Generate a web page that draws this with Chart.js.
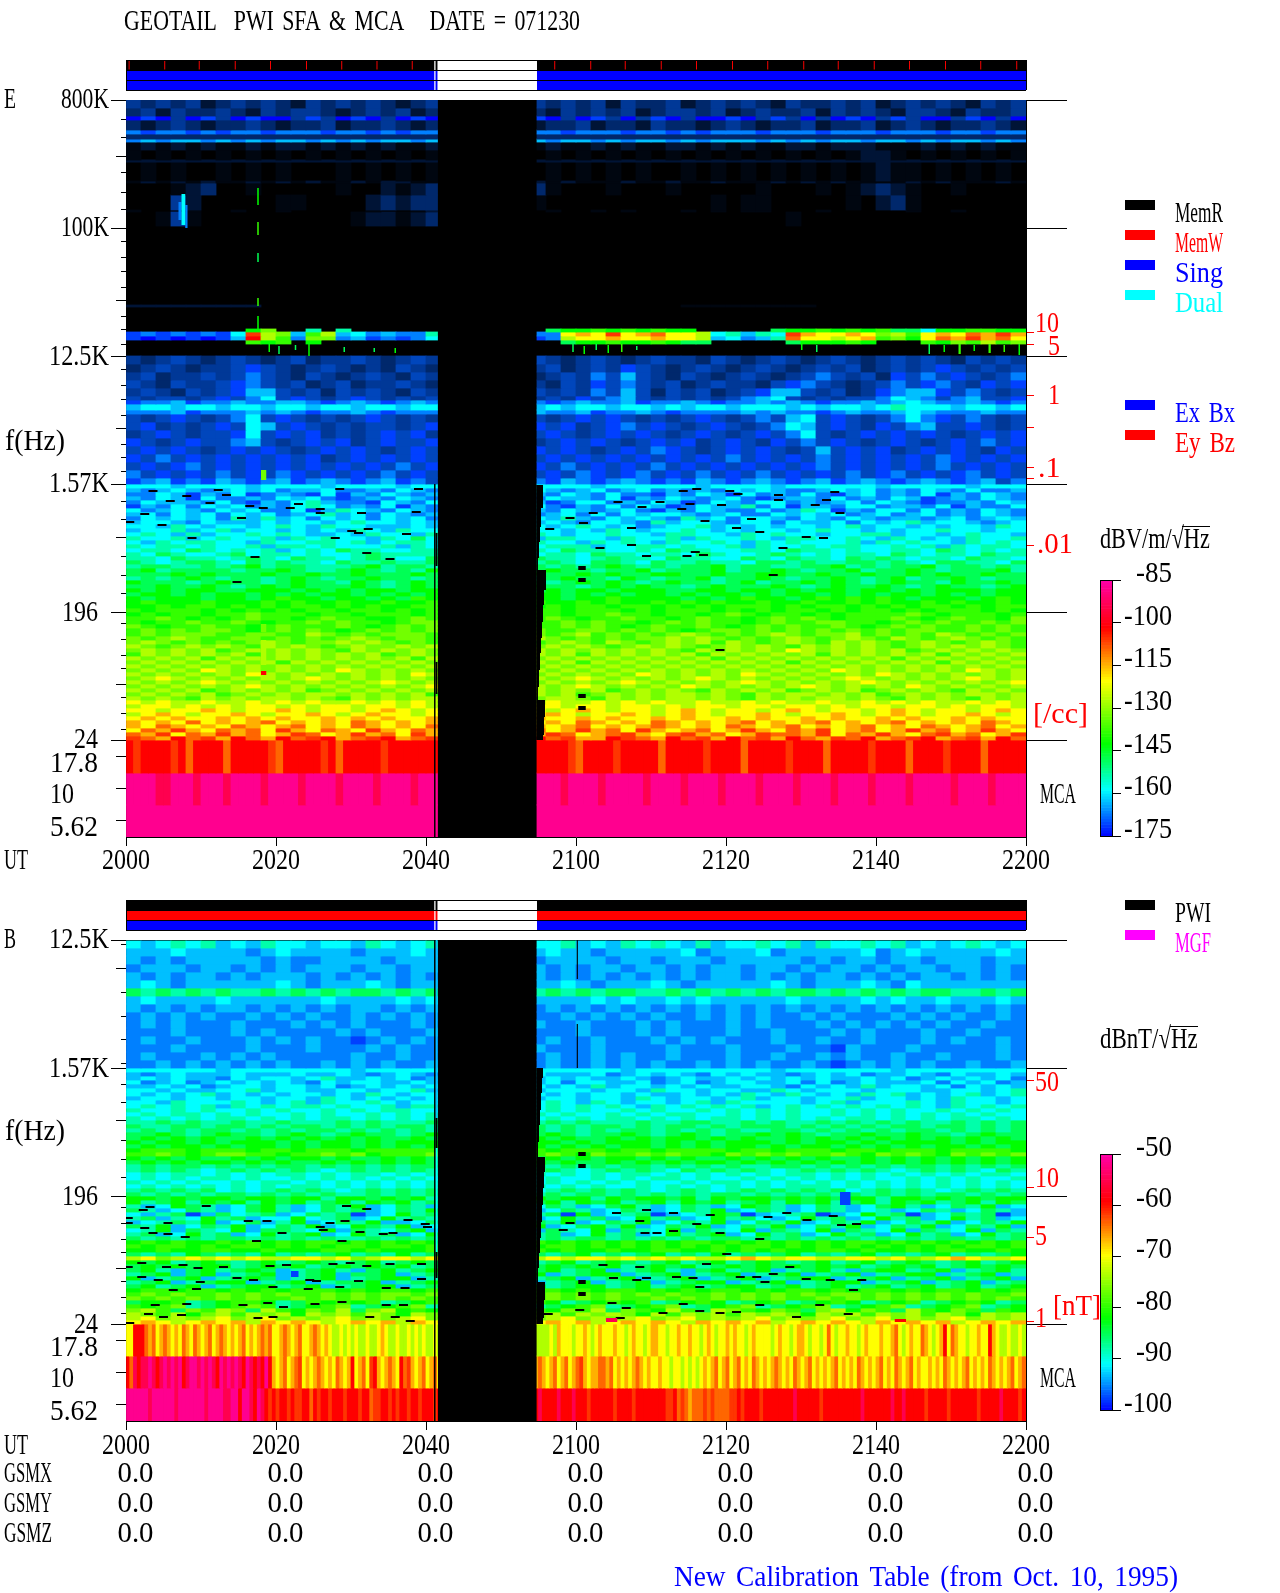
<!DOCTYPE html>
<html><head><meta charset="utf-8"><style>html,body{margin:0;padding:0;background:#fff;width:1280px;height:1593px;overflow:hidden}canvas{position:absolute}</style>
<script src="https://cdn.jsdelivr.net/npm/chart.js@4"></script></head><body><script>
// ---- time axis (minutes after 2000 UT) ----
const TIME_TICKS=[0,20,40,60,80,100,120];
const TIME_LABELS=['2000','2020','2040','2100','2120','2140','2200'];
const GSM_NAMES=['GSMX','GSMY','GSMZ'];
const GSMX=['0.0','0.0','0.0','0.0','0.0','0.0','0.0'];
const GSMY=['0.0','0.0','0.0','0.0','0.0','0.0','0.0'];
const GSMZ=['0.0','0.0','0.0','0.0','0.0','0.0','0.0'];
const GAP_START=41.53, GAP_END=54.8;
// ---- status strips ----
const STRIP_ON=[[0,41.1],[41.27,41.53],[54.8,120]];
const E_STRIP_TICKS=[.35,5.1,9.7,14.5,19.2,24,28.7,33.4,38.1,57.1,61.9,66.5,71.3,76,80.8,85.5,90.3,94.9,99.7,104.4,109.2,113.9,118.7];
// ---- frequency axes, in channels above the 24 Hz line ----
const E_MAJOR=[640,512,384,256,128,0];
const E_MED=[584,440,312,203,56,-16,-48,-80];
const E_MINOR=[621,603,568,548,531,499,483,469,453,424,411,396,371,355,341,325,296,283,268,239,221,184,165,147,117,101,85,72,43,27,11];
const E_LABEL_TICKS=[640,512,384,256,128,0,-16,-48,-80];
const E_LABELS=['800K','100K','12.5K','1.57K','196','24','17.8','10','5.62'];
const E_RED=[408,396,344,313,272,262,195];
const E_RED_LABELS=['10','5','1','','.1','','.01'];
const B_MAJOR=[384,256,128,0];
const B_MED=[355,203,56,-16,-48,-80];
const B_MINOR=[379,331,307,285,261,240,221,184,165,147,117,101,85,72,43,27,11];
const B_LABEL_TICKS=[384,256,128,0,-16,-48,-80];
const B_LABELS=['12.5K','1.57K','196','24','17.8','10','5.62'];
const B_RED=[243,137,87,3];
const B_RED_LABELS=['50','10','5','1'];
// ---- colour bar scales ----
const E_DB=[-85,-100,-115,-130,-145,-160,-175];
const B_DB=[-50,-60,-70,-80,-90,-100];
// ---- level keys (0..1 along the bar; negative = sparse noise, fading to black) ----
const LEVEL_KEYS={t:-.37,u:-.3,v:-.2,w:-.12,x:-.05,'0':0,'1':.045,'2':.09,'3':.135,'4':.18,'5':.24,'6':.30,'7':.36,'8':.41,'9':.47,a:.53,b:.606,c:.67,d:.73,e:.77,f:.813,g:.9,h:.97};
// ---- E panel, sparse upper channels: [top channel, bottom channel, cells before gap | cells after gap] ----
const E_UPPER=[
[640,632,'wvwvwuvwvwvuwvwvwvuvw|wvwvwuwvvwuvwvwvuwvvwvwuvwvwvuwvw'],
[632,624,'vwuwvvwvuwvwwvuvwvwuv|vuwvwvwuvwwvwuvwvvwuwvwvuwwvuwvvw'],
[624,620,'010w01w0100w1w010w010|10w01w0w10w0010w1w0w010w1w00w10w0'],
[620,610,'vuvwvuvvwvuvvwuvvwvuv|uvvwuvvuwvvuvwvuvvwuvvwuvwvuvvwvu'],
[610,606,'212212122122212212122|221222122121222122212221222122122'],
[606,601,'v|v'],
[601,598,'232332323233232323323|323323233232333232323323323233232'],
[598,590,'tutututtutuututututtu|tuttututtuutututtuutuuutttutututt'],
[590,580,'t.t.t.t.t.t.t.t.t.t.t|t.t.t.t.t.t.t.t.t.t.t.tuut.t.t.t.t'],
[580,578,'u|u'],
[578,559,'.t.t..t.t.t...t.t.t.t|.t.t.t.t..t.t.t.t.t.t.tutt.t.t.t.'],
[559,557,'tutututtutututtutuutt|ututttuttuttutttutututtttututttut'],
[557,545,'...tuv..t.....t..utuv|vt...t...t.....t...t.tuvut..t....'],
[545,530,'...wu.....tt....uvuvv|t...........t.tt.....t.uvt.......'],
[530,528,'t...t..t..t.....t..tu|.t..t.t...t.t.tt...t.....t..t....'],
[528,514,'..twt..........tuutuv|................t...............'],
[435,433,'uuuuuuuuu............|..........ttttttttt..............'],
[411,408,'........79..5.5......|..6778787877.....67787878664778877'],
[408,404,'12121214ea938a3423225|22bcbebcdbba45354ecbbcb9a8bcbdcec'],
[404,400,'10101013fa82992312124|12abbcbbcbba34235dbbabc897bdcecdb'],
[400,396,'........878.7........|..6778778766.....677787...8798a89']];
// ---- E panel, noisy channels below the 12.5 kHz line ----
const E_NOISE=[
[384,376,'wvwxwvwxwvwxvwwxwvwxw|xwvwxwvwxwwvxwvwxwvwxwvwxwxwvxwxw'],
[376,368,'vwxwvwwx1xwvwxwvwvxwv|wxvwxw1xwvwxwvwxwvwxwxvwxwx1xwxwx'],
[368,360,'wxvwwxwx2xwvxwvwxwvxw|vwxw2x3xwvxwvwxwvwx2xwxv1x2x1xwx2'],
[360,352,'xwvxwwx12xwxvwxvwwxwv|wvxw1x2xwxvwxwwvx12xwvwx2x12xw1x1'],
[352,344,'wxwvxwx133xwxvxwxwvxw|xwxw2x3xvxwxvwx133xwxvw12331x2xwx'],
[344,340,'xwxxwx1x24x1xwx1xwxwx|wxw1x23xwxwxwx234xwxwxx2432x23xx1'],
[340,336,'122312232233212321232|212322312232122323212232343223212'],
[336,330,'344344344344344344344|343443443434434443434434544434434'],
[330,326,'222312223232122321222|322312232122223232212322343222322'],
[326,318,'xwx1xwx24x1xwxwx1xwxw|xwx1x1xwxwx1xwx2x34x1xwx2421x2xwx'],
[318,310,'x1wxwx1x43x1xwxwxxwx1|1x1wx12x1xwx1xwx243x1xw1x23xx1xwx'],
[310,302,'wx1xwxx14x1x1wxwx1x1w|x1xwx1x1xwx1xwx1x24xwx1x1x1xwx1x1'],
[302,294,'1xwx1xx23xwx1x1wx1xx1|wx1x1xwx1x1wx1xw1x2x1xwx1xwx1x2x1'],
[294,286,'x1x1xwx1x1xwx1x1xwx1x|1x1xwx1x21xwx1x1xwx3x1x1wx1x1xw1x'],
[286,278,'1x2x1x1x1x1x1wx1x1x1x|x1x1x1x1x1x1x2x1x1x2x1x1x1x21x1x1'],
[278,270,'x1x12x1x1x1x1x1x1x2x1|1x2x1x1x2x1x1x1x1x12x1x1x1x2x1x1x'],
[270,262,'2x1x1x2x1x21x1x1x2x1x|x1x21x12x1x2x1x2x1x1x2x12x1x12x1x'],
[262,256,'12312132123123212312x|2132123212132123212312321232123x2']];
// ---- E panel, SFA channels from 1.57 kHz to 24 Hz, one row per 4 channels, top to bottom ----
const E_BRICKS=[
'444344443444434444344|444434444443444434444443444443444',
'323432343423342232432|432342342323243432234342324324223',
'224313241232141324323|324324221324314232421342324132432',
'324314223243421232432|243324132432342123324232431232432',
'243332421324532214324|312442324312432442323424321223243',
'132424342324542324132|421324243124335241332442332413224',
'423432434224135432432|324323421324322423541324424232432',
'342434243423453424323|234242434432342243434234234232432',
'243434253534243424342|435324343253424432432432332342343',
'344324333434434544343|343244325344324424334243453443234',
'443543443454354433343|434543423445343434434534434344354',
'344534534434343543544|443435434454343443454434344544344',
'454353445454334354435|543445443554435454434455344345443',
'544534544535454435464|355443544535445435544543543435445',
'435455443544554534554|544354543544543545444535454435454',
'545545445355454445354|455534455454453544545544545354554',
'455465454534546554455|546554454655445546554544554654545',
'546544564554544565555|455465545546544565454554654554655',
'554655456546554565446|655456554655446546554656545546554',
'654566546565546556556|565466546556554665655665654665546',
'566556567566555675665|656567656566756655667565667566565',
'675666656676556765657|676656675666756676566756676566675',
'666767666766766766676|766767667766766776676676676766766',
'565676566567656676656|567665765667566765667656756676566',
'766656766567665765676|656767656766567566767656766576676',
'667667656767666765676|766567676656766676567667656766567',
'767677667776767677677|676776777667767767677677676777677',
'677676776767677676767|776767677676776767767676776767677',
'767776776787767767687|776778777767678776787878767776787',
'787778777878778778778|877878778787877877877878778787787',
'778788787878878787788|787887887878788878788787878878788',
'878887878787887887878|887888787888787878878788787888787',
'787887889888788788878|887889887887898788787888898788878',
'889878789887898877898|898788988789887898987888987898879',
'878898898788989887899|889898878989887898899887898988989',
'987889887898889878989|889898789889878989889878989889898',
'898989987898987898989|988998989878998989898989899889898',
'898999889988a98989998|989a898989a98989a9899a89898a98989',
'989a98899898989a98998|a98989899a9a98989a989a98a989a9898',
'9a9898989a9899a9a9898|89a98a989a9a8a989a98a9a989a989a98',
'a989a9a98a9a989a99a9a|9a9a989a9a989a9a98a9a9a989a9a9a98',
'9a9a9a89a9a9a98a9a9a9|a9a9a9a9a98a9a9a9ba9a9a9a89a9a9a9',
'8a9a9a9a89a9a9a9a89a9|a9a8a9a9a9a8a9a9a9a8a9a9a9a8a9a9a',
'a9a9a8a9a9a9a9a9a9a8a|9a9a9a9a9a9a8a9a9a9a9a9a8a9a9a9a9',
'9a9a9a9a9a8a9a9a9a9a9|a9a8a9a9a9a9a9a9a8a9a9a9a9a8a9a9a',
'a9a9a9a9a9a9a9a9a9a9a|9a9a9a9a9a9a9a9a9a9a9a9a9a9a9a9a9',
'9a9a9ba9a9a9a9ba9a9a9|a9a9a9a9a9a9a9a9a9a9ba9a9a9a9ba9a',
'a9a9a9a9ba9a9a9a9a9ba|9a9a9a9ba9a9a9ba9a9a9a9ba9a9a9a9a',
'9aba9a9a9a9aba9a9a9a9|a9aba9a9a9aba9a9a9a9aba9a9a9aba9a',
'a9a9aba9a9a9a9a9aba9a|9a9a9aba9a9a9aba9a9a9aba9a9a9a9ab',
'9a9a9a9aba9a9a9a9a9ab|a9aba9a9a9ba9a9a9aba9a9a9ba9a9a9a',
'a9a9a89a9a9a89a9a9a9a|a9a9a89a9a98a9a9a89a9a89a9a98a9a9',
'9a9a9a89a9a9aa9a9a9a8|a9a89a9a9aa9a98a9aa9a9a89a9a9aa9a',
'a9a98a9a9aa9a98a9a9aa|9aa98a9a9aa9a98a9a9aa9a98a9a98a9a',
'babaabaabababaabababa|abaabababaabaababaabaabababaababa',
'abbabababbababbabbaba|bbabbabbababbabbabbababbabbababba',
'bbabbcbabbcbabbabcbab|babcbabbabcbabbabcbabbabcbabbabcb',
'abcbabbcbabbcbabcbbab|bcbabbcbabcbabbcbabbcbabcbabbcbab',
'bcbcbbcbcbcbbcbcbcbbc|cbbcbcbbcbcbbcbcbbcbcbbcbcbbcbcbb',
'cbcbdbcbcdbcbcbdcbcbc|bcbdcbcbdcbcbcdbcbcdbcbcdbcbcbdcb',
'cbdcbcbdcbcdbcbdcbcbd|cbcdbcbcdcbcbdcbcdbcbcdbcbdcbcdbc',
'bdcecbdcdbecbdcbecbdc|dbcecdbecbcdbcecbdcebcdbcecdbcecb',
'dcebdcecdbcedbcecdbec|cedbcdecbdecdbceddcebdcecbdecdbce',
'edcfdecfdcfdefcdefcde|fdeccfedcfdecfdecfdcedfcdefcdecfd'];
// black dashes: [minute, channel]
const E_DASHES=[[3.6,249],[12.3,250],[13.4,245],[5.9,239],[8.1,244],[11.2,237],[16.5,234],[23,236],[21.9,232],[18.3,232],[.5,218],[2.5,226],[4.8,215],[15.4,222],[31,207],[30.1,209],[32.3,211],[37.4,206],[27.9,202],[8.8,202],[17.2,183],[35.2,181],[25.9,227],[28.5,251],[39,251],[38.7,228],[31.4,227],[25.9,231],[14.8,158],[32.1,187],
[76.1,251],[74.3,249],[80.5,249],[81.6,246],[87,245],[87,240],[94.5,248],[65.6,238],[68.8,233],[71.2,238],[75.2,236],[79.4,235],[91.9,235],[93.4,240],[74.1,231],[62.3,227],[59.2,222],[61,217],[77.2,219],[83.4,221],[81.4,212],[84.5,208],[95.2,227],[67.4,212],[90.7,203],[93,202],[63.2,192],[67.4,195],[69.4,184],[74.8,184],[75.9,188],[77,185],[87.6,192],[79.2,90],[86.3,165],[56.5,211]];
const E_MCA=[
[0,-33,'feffffefdffffdfffffedfffffefdfffffefffffff|ffffedffffefffffdfffffeffffdfffffeffffdfffffeffffdffffeffffdfffff'],
[-33,-65,'hhhhgghhhghhhghhhhghhhhghhhhghhhhghhhhghh|hhhghhhhghhhhhghhhhghhhhghhhhghhhhghhhhghhhhghhhhghhhhhghhhhghhhh'],
[-65,-97,'h|h']];
// ---- B panel ----
const B_NOISE=[
[383,376,'434545343544344354345|445343545435344545354454534345434'],
[376,368,'333433332343333233343|343323333342333423333342343333343'],
[368,360,'323233333232233332333|233332332333233333232332332333233'],
[360,352,'233323323232333233233|323233233232332332323323233233232'],
[352,344,'323233232333232323232|323232323232332323233232323323232'],
[344,336,'343233333343233343233|334323334323333343233343243333333'],
[336,328,'656565655656565665656|565656655656565656656565656655656'],
[328,320,'343333433333343333434|333343433434333334333343433433343'],
[320,312,'323232332323232332323|232323232323232323232323232323232'],
[312,304,'232323223232322323232|223232323223232322323222323232232'],
[304,296,'232322232223232322232|322322232322232322232323232322322'],
[296,288,'222322232322223232223|222322232322232232223232223223222'],
[288,280,'232232223232322123232|232232223232322232232232223232232'],
[280,272,'222322223222322232322|322232222322232223221322232222232'],
[272,264,'232223232322222322322|232232322322232232232322322322232'],
[264,256,'223232323232232323223|232232323223232322321232323223223']];
const B_BRICKS=[
'444444344444444344444|444444344444444434444444344444444',
'323433343334334323432|433342343432434332343423343243343',
'343433243443453343423|343433432343343434343343423434342',
'423423434343243443343|342443342342344334242343334243423',
'334342344344342343434|434353443434334432434353443424343',
'443433445344334434453|344434435443443354344434443344345',
'434345343434434354344|434344343343435435434354534345345',
'344344344344354343434|344344354344345344344534434354434',
'443544454345354454344|454354344345354444345344454354434',
'454545354545545445355|454545435454545345454545454354545',
'544545445454454545544|454544545445454545445454544545454',
'454554545445454454545|545445454554454545445454545454544',
'545454554545455454545|454545545454554545454554545455454',
'556565565565556565556|565655565566556565565656565565656',
'655665665656656565665|656566565665656665656565665665656',
'565656656565665656565|656565665656565566565656566565656',
'667656766567656766567|676566765676566767656676676656766',
'676767667676767676676|767667676776767667676767676767676',
'767767677767677676777|776767776767677767677676777767677',
'676776767767677676767|767676776767677676776767676776767',
'788878887887888788888|878887887888878878887887888788887',
'889878998878898978889|898798898988798989889879898798989',
'767676676767767667676|676767767676676767676676767676767',
'676767767676676767676|767667676767767676767676767676767',
'565665656566565656566|656565665656565566565656566565656',
'565654565656545656565|565456565465656545656565456565465',
'454554545455454554545|545454554545454545545454545454554',
'454545545445454545454|454454545545445454545454454545445',
'545454454554545454545|454545454454554545454545454545454',
'454545454545545454545|545454454545454545554545454545454',
'565656454565654565656|456565654565456565656456565456565',
'656565665656565565656|565665656565665656565656565665656',
'776767767767757767675|767757677675767767676775776767677',
'756757675767567576756|675767567576756757675675767567576',
'534765346753465734653|465346753465347653465346753465734',
'653465346753465634657|346534653465734653465345346534653',
'435613645634656134756|561734561345761345613475613465613',
'563547563447456347565|347563475634756434756347563475634',
'345657346357346573346|657346573465734657346573465734657',
'657346573465734765734|734675734657346573465734657346573',
'457365473665473654673|365473654736547365473654736547365',
'563475634756734756347|563475634756734756347563475634756',
'656565665656565565656|565665656565665656565656565665656',
'787877878787887878787|878787878788787878787887878787878',
'878878788787878878878|788787878787878878787878787878878',
'778778877877788787778|878778778877878787788787787887787',
'656576565756567565756|656756567565756567565675656756567',
'ab9abababaabbab9abbab|ababbabababaabcbabbaabbab9abcbaab',
'767567656756765675676|567567656756756765675675676567567',
'676767756767567676756|676767567675676767676756767567676',
'675367567635675367567|675673567536756735675367756735675',
'567367356735673667356|735677356735673567356735677356735',
'735673567635673567735|567356735673567356773567356735673',
'567356773567356673567|356735673567735673567735673567356',
'675673567756735677356|756775675675677567567567567567567',
'788788787878887878878|887878878787887878878788787887878',
'898988989898898989989|898989898988989898989989898989889',
'989898989889898989898|898989889898989898898989898989898',
'677856788756878785678|875678785678756785678756785678756',
'878956789856789567895|567895678956789567895678956789567',
'9a8698a96a8798a69a787|8798a6987a86a9879869a7986a8798687',
'a98a79a8a9a7a9a8a97a9|9a8a9a97a8a9a8a9a97a9a8a9a8a97a9a',
'ab9a9ab9ab9a9ab9a9ab9|9ab9a9ab9ab9a9ab9a9ab9ab9a9ab9a9a',
'bcbabcbcacbcbabcbcacb|bcbcabcbcbacbcbcabcbcbacbcbcabcbc'];
const B_DASHES=[[3.2,117],[10.7,118],[2.3,114],[29.4,118],[32.1,115],[.3,106],[.3,101],[2.5,96],[5.6,101],[16.3,103],[18.8,103],[25.9,97],[27.2,101],[29.2,103],[37.6,104],[39.9,100],[40.2,97],[3.6,91],[5.6,90],[7.9,87],[17.4,83],[20.8,91],[26.3,94],[31.2,92],[34.3,90],[35.6,91],[28.8,83],
[.3,57],[2.1,61],[5.4,57],[7.6,59],[9.6,56],[13,57],[19.2,58],[21.4,59],[27.6,60],[29.9,61],[32.1,58],[35.2,60],[39.4,60],[2.1,47],[4.3,44],[9.9,42],[14.8,46],[17,44],[19.6,37],[24.5,44],[25.4,43],[31,43],[39.4,45],[6.3,34],[9.4,35],[24.3,35],[28.5,37],[34.7,36],[37.2,36],
[3.9,19],[8.1,20],[15.6,19],[18.9,21],[21,17],[25.2,20],[28.8,22],[34.7,19],[37,19],[3,10],[5,7],[7.4,9],[17.6,6],[19.6,7],[32.5,7],[35.9,7],[37.9,3],[.5,1],
[69.4,114],[73,111],[65.4,111],[68.5,103],[69.2,91],[70.8,91],[73,93],[76.1,100],[77.9,109],[79.2,91],[84.5,85],[85.6,107],[88.1,111],[90.8,104],[94.3,108],[95.4,99],[97.4,100],[58.3,94],[59.2,101],
[63.6,59],[68.5,57],[65,46],[68.1,44],[69.4,46],[73.4,47],[75.6,46],[77.4,60],[80.1,70],[81.9,47],[84.1,47],[86.3,50],[88.5,57],[90.7,45],[93.9,44],[98.1,44],[76.5,37],[97,34],[85.2,42],
[60.5,14],[64.8,21],[66.7,16],[71.6,11],[74.3,20],[76.5,13],[79.2,11],[81.4,12],[84.5,19],[89.4,7],[92.5,19],[96.3,10],[56.3,10],[65.9,6]];
const B_MCA=[
[0,-32,'bbfffdcdbcdcbcbdcbdcbcdbcdcbcbcdbcbcdcdbbcdcbcdbbcdcbcbaabababaabaabcbaabaabababaabaabab|aa9a9aaaabacbbbabbcbabcbbbcbbabcbbabccbbabbcbbcbbabcbabbcbcbbabcbbbbabcbbabccbabbabdbabbcbbabcbbbcbbcdbabcbbdcbabcfbdcbbabbcbbfcbaabaaba'],
[-32,-64,'fdgfgghgfghghghfghhghghgfhghghgfhgfgfhfcbcdbcdebcbcdcbcbdcbcfbcdbefcbcdcbfdecbcdbcdbcdb|fcfcbcdcbcdbcdbcdecbccddcdbcbcbcdcbcbbcbbabbabababcbcdbcdbcdbcbdcbcbcdcbcbdcbcdbcbcbcdbcbcbdcbcbcdbcbdcbcdbcbbcbcbdcbcbcdbcbcbdcbcbcdbcd'],
[-64,-97,'hhhhhhghhhhhhghhhhhhhghhhhgghhfhhgfhgfefeffefeeffdfeffefffefffeffdeeffefeffeffefffeffefe|ffffgfgffffgfffgfffeffffffeffffeffffffffeefdedcdddededdddeefeffffeffffffffgffffffeffffffffffgfffffffgffgfffffefffffefffffffefffffgffffef']];
// ---- black notch along the gap, and single marks: [t start, t end, top channel, bottom channel, level] ----
const E_EDGE=[[255,232,55.6],[232,213,55.33],[213,198,55.2],[198,182,55.07],[182,170,54.93],[170,150,56],[150,135,55.73],[135,118,55.6],[118,102,55.47],[102,87,55.33],[87,70,55.2],[70,53,55.07],[53,40,54.93],[40,23,55.87],[23,5,55.73],[5,0,55.6]];
const B_EDGE=[[256,246,55.6],[246,231,55.47],[231,214,55.33],[214,199,55.2],[199,182,55.07],[182,167,54.93],[167,152,55.87],[152,136,55.73],[136,119,55.6],[119,102,55.47],[102,86,55.33],[86,71,55.2],[71,56,55.07],[56,42,54.93],[42,24,55.87],[24,6,55.73],[6,0,55.6]];
const E_MARKS=[
[41.07,41.27,256,-97,'.'],[41.27,41.53,207,174,'.'],[41.27,41.53,78,46,'.'],
[60.3,61.3,174,170,'.'],[60.3,61.3,162,158,'.'],[60.3,61.3,46,42,'.'],[60.3,61.3,34,30,'.'],
[17.5,17.7,552,535,'7'],[17.5,17.7,518,505,'8'],[17.5,17.7,487,478,'6'],[17.5,17.7,442,434,'8'],[17.5,17.7,424,408,'7'],
[18,18.7,69,65,'f'],[18,18.7,100,75,'a'],[18,18.7,116,108,'9'],[18,18.7,270,260,'9'],
[7.4,7.9,546,515,'4'],[7,7.4,538,520,'2'],[7.9,8.2,535,512,'2'],
[19,19.2,396,388,'7'],[20.3,20.5,394,386,'6'],[22.5,22.7,395,390,'6'],[24.3,24.5,396,384,'7'],[29,29.2,393,388,'6'],[33,33.2,392,388,'6'],[35.8,36,392,387,'7'],
[59.5,59.7,396,388,'6'],[61,61.2,394,386,'7'],[62.6,62.8,396,390,'6'],[64.2,64.4,395,387,'7'],[66,66.2,396,388,'8'],[68,68.2,394,390,'6'],
[90,90.2,396,390,'7'],[92,92.2,395,388,'6'],[107,107.2,396,386,'6'],[109,109.2,395,388,'7'],[111,111.3,396,386,'8'],[113,113.2,395,389,'7'],[115,115.3,396,387,'8'],[117,117.2,395,388,'8'],[119,119.2,396,385,'7']];
const B_MARKS=[
[41.07,41.27,384,-97,'.'],[41.27,41.53,206,176,'.'],[41.27,41.53,72,46,'.'],[41.27,41.53,384,206,'3'],[41.27,41.53,176,72,'4'],
[60.3,61.3,172,168,'.'],[60.3,61.3,160,156,'.'],[60.3,61.3,44,40,'.'],[60.3,61.3,32,28,'.'],
[60.1,60.25,384,345,'.'],[60.1,60.25,300,256,'.'],
[95.2,96.6,132,119,'1'],[22,23,53,47,'1'],[64,65.5,6,2,'g'],[102.5,104,5,2,'f']];
// ---- legends ----
const E_LEGEND=[['MemR','#000000'],['MemW','#ff0000'],['Sing','#0000ff'],['Dual','#00ffff']];
const E_LEGEND2=[['Ex Bx','#0000ff'],['Ey Bz','#ff0000']];
const B_LEGEND=[['PWI','#000000'],['MGF','#ff00ff']];

Chart.defaults.animation=false;Chart.defaults.responsive=false;Chart.defaults.devicePixelRatio=1;
Chart.defaults.plugins.legend.display=false;Chart.defaults.plugins.tooltip.enabled=false;

const STOPS=[[-.4,[0,0,0]],[0,[0,80,215]]];
const RAMP=[[0,[0,0,255]],[.18,[0,255,255]],[.36,[0,255,0]],[.606,[255,255,0]],[.813,[255,0,0]],[1,[255,0,170]]];
function ramp(t){
  const s=t<0?STOPS:RAMP;
  for(let i=1;i<s.length;i++){ if(t<=s[i][0]){const a=s[i-1],b=s[i],f=(t-a[0])/(b[0]-a[0]);
    return `rgb(${a[1].map((c,k)=>Math.round(c+(b[1][k]-c)*f)).join(',')})`;}}
  return 'rgb(255,0,170)';
}
function levelColor(k){return k==='.'?'#000':ramp(LEVEL_KEYS[k]);}
function cells(side,start,end,fromRight){
  const n=side.length, span=end-start;
  if(n===1) return [{t0:start,t1:end,k:side}];
  const w=Math.max(.5,Math.round(span/n*2)/2), out=[];
  for(let i=0;i<n;i++){
    let t0,t1;
    if(fromRight){t1=end-(n-1-i)*w;t0=i===0?start:Math.max(start,t1-w);if(t1<=start)continue;}
    else{t0=i*w;t1=i===n-1?end:Math.min(end,t0+w);if(t0>=end)continue;}
    out.push({t0,t1,k:side[i]});
  }
  return out;
}
function rowDataset(top,bot,str){
  const [l,r]=str.split('|');
  const cs=[...cells(l,0,GAP_START,false),...cells(r,GAP_END,120,true)].filter(c=>c.k!=='.');
  return {data:cs.map(c=>({x:[c.t0,c.t1],y:(top+bot)/2})),backgroundColor:cs.map(c=>levelColor(c.k)),
    barThickness:top-bot,grouped:false,borderWidth:0,inflateAmount:.4,xAxisID:'x',yAxisID:'y',order:1};
}
function markDatasets(edge,marks,dashes){
  const out=edge.map(e=>({data:[{x:[GAP_END-.1,e[2]],y:(e[0]+e[1])/2}],backgroundColor:'#000',barThickness:e[0]-e[1],grouped:false,borderWidth:0,inflateAmount:0,xAxisID:'x',yAxisID:'y',order:0}));
  marks.forEach(m=>out.push({data:[{x:[m[0],m[1]],y:(m[2]+m[3])/2}],backgroundColor:levelColor(m[4]),barThickness:m[2]-m[3],grouped:false,borderWidth:0,inflateAmount:0,xAxisID:'x',yAxisID:'y',order:0}));
  out.push({data:dashes.map(d=>({x:[d[0]-.6,d[0]+.6],y:d[1]})),backgroundColor:'#000',barThickness:2,grouped:false,borderWidth:0,inflateAmount:0,xAxisID:'x',yAxisID:'y',order:0});
  return out;
}
function bricks(list,startCh){return list.map((s,i)=>rowDataset(startCh-i*256/list.length,startCh-(i+1)*256/list.length,s));}

function mk(x,y,w,h){const c=document.createElement('canvas');c.width=w;c.height=h;c.style.left=x+'px';c.style.top=y+'px';document.body.appendChild(c);return c;}
function T(ctx,s,x,y,color='#000',align='left',per=12){
  ctx.save();ctx.font='30px "Liberation Serif"';ctx.fillStyle=color;ctx.textAlign=align;ctx.textBaseline='alphabetic';
  if(s.includes(' '))ctx.wordSpacing='4px';
  ctx.fillText(s,x,y+10,s.length*per);ctx.restore();
}
function fixedAxis(axis,position,values,len,color,border,labels){
  return {axis,position,type:'linear',offset:false,afterFit(s){if(axis==='y')s.width=0;else s.height=0;},
    afterBuildTicks(s){s.ticks=values.map(v=>({value:v}));},
    grid:{drawOnChartArea:false,drawTicks:true,tickLength:len,tickColor:color,tickWidth:1,offset:false},
    border:{display:border,color:'#000',width:1},
    ticks:{display:false,autoSkip:false,callback:(v)=>{if(!labels)return '';const i=values.indexOf(v);return i<0?'':labels[i];}}};
}
function heatChart(top,h,cfg){
  const canvas=mk(0,top,1280,h);
  const yr={min:-97,max:cfg.yMax};
  const scales={
    x:{...fixedAxis('x','bottom',TIME_TICKS,9,'#000',true,TIME_LABELS),min:0,max:120},
    y:{...fixedAxis('y','left',cfg.minor,5,'#000',true),...yr},
    yMed:{...fixedAxis('y','left',cfg.med,10,'#000',false),...yr},
    yMaj:{...fixedAxis('y','left',cfg.major,15,'#000',false),...yr},
    yLab:{...fixedAxis('y','left',cfg.labelTicks,0,'rgba(0,0,0,0)',false,cfg.labels),...yr},
    yR:{...fixedAxis('y','right',cfg.major,41,'#000',true),...yr},
    yRed:{...fixedAxis('y','right',cfg.red,8,'#ff0000',false,cfg.redLabels),...yr}};
  return new Chart(canvas,{type:'bar',data:{datasets:cfg.datasets},options:{indexAxis:'y',
    layout:{padding:{left:126,right:254,top:cfg.top-top,bottom:top+h-cfg.bottom}},scales},
    plugins:[{id:'bg',beforeDatasetsDraw(c){const a=c.chartArea;c.ctx.fillStyle='#000';c.ctx.fillRect(a.left,a.top,a.right-a.left,a.bottom-a.top);},
      afterDraw(c){cfg.text(c.ctx,c.scales,top);}}]});
}
function stripChart(top,rows,ticks){
  const canvas=mk(100,top-5,950,40);
  const sets=rows.map((col,i)=>({data:STRIP_ON.map(s=>({x:s,y:i})),backgroundColor:col,grouped:false,barThickness:10,borderWidth:0,inflateAmount:0,order:1}));
  if(ticks)sets.push({data:ticks.map(t=>({x:[t,t+.13],y:0})),backgroundColor:'#ff0000',grouped:false,barThickness:9,borderWidth:0,inflateAmount:0,order:0});
  new Chart(canvas,{type:'bar',data:{datasets:sets},options:{indexAxis:'y',layout:{padding:{left:26,right:24,top:5,bottom:5}},
    scales:{x:{type:'linear',min:0,max:120,display:true,afterFit(s){s.height=0;},afterBuildTicks(s){s.ticks=[{value:0},{value:120}];},
        grid:{drawTicks:false,color:'#000',z:1},border:{display:false},ticks:{display:false}},
      y:{type:'linear',offset:false,min:-.5,max:2.5,reverse:true,display:true,afterFit(s){s.width=0;},afterBuildTicks(s){s.ticks=[-.5,.5,1.5,2.5].map(v=>({value:v}));},
        grid:{drawTicks:false,color:'#000',z:1,offset:false},border:{display:false},ticks:{display:false}}}}});
}
function colorBar(top,h,dbs,step,cfg){
  const canvas=mk(1090,top,190,h);
  const lo=dbs[dbs.length-1],hi=dbs[0],vals=[];for(let v=lo;v<hi;v+=step)vals.push(v);
  const thick=cfg.px/((hi-lo)/step)+.6;
  new Chart(canvas,{type:'bar',data:{datasets:[{data:vals.map(v=>({x:[0,1],y:v+step/2})),backgroundColor:vals.map(v=>ramp((v+step/2-lo)/(hi-lo))),barThickness:thick,grouped:false,borderWidth:0,inflateAmount:0,xAxisID:'x',yAxisID:'y'}]},
   options:{indexAxis:'y',layout:{padding:{left:10,right:168,top:cfg.pad,bottom:h-cfg.pad-cfg.px}},
    scales:{x:{type:'linear',min:0,max:1,afterFit(s){s.height=0;},afterBuildTicks(s){s.ticks=[{value:0},{value:1}];},grid:{drawTicks:false,color:'#000',z:1},border:{display:false},ticks:{display:false}},
      y:{type:'linear',offset:false,min:lo,max:hi,position:'right',afterFit(s){s.width=0;},afterBuildTicks(s){s.ticks=dbs.map(v=>({value:v}));},grid:{drawOnChartArea:false,tickLength:9,tickColor:'#000',offset:false},border:{display:false},ticks:{display:false,autoSkip:false,callback:v=>String(v)}},
      yF:{axis:'y',type:'linear',offset:false,min:lo,max:hi,position:'left',afterFit(s){s.width=0;},afterBuildTicks(s){s.ticks=[{value:lo},{value:hi}];},grid:{drawTicks:false,color:'#000',z:1,offset:false},border:{display:false},ticks:{display:false}}}},
   plugins:[{id:'lab',afterDraw(c){const s=c.scales.y;s.ticks.forEach(t=>{T(c.ctx,t.label,82,s.getPixelForValue(t.value)-8,'#000','right');});}}]});
}
function rightLabels(ctx,scale,lefts,dys){scale.ticks.forEach((t,i)=>{if(t.label)T(ctx,t.label,lefts[i],scale.getPixelForValue(t.value)+dys[i],'#ff0000');});}
function leftLabels(ctx,scale,rights,dys){scale.ticks.forEach((t,i)=>{T(ctx,t.label,rights[i],scale.getPixelForValue(t.value)+dys[i],'#000','right');});}
function timeLabels(ctx,x,y){x.ticks.forEach(t=>T(ctx,t.label,x.getPixelForValue(t.value),y,'#000','center'));}
function legend(ctx,list,y0){list.forEach((l,i)=>{const y=y0+i*30;ctx.fillStyle=l[1];ctx.fillRect(1125,y,30,10);T(ctx,l[0],1175,y+12,l[1],'left');});}

heatChart(0,870,{yMax:640,top:100,bottom:837,minor:E_MINOR,med:E_MED,major:E_MAJOR,labelTicks:E_LABEL_TICKS,labels:E_LABELS,red:E_RED,redLabels:E_RED_LABELS,
  datasets:[...E_UPPER.map(r=>rowDataset(r[0],r[1],r[2])),...E_NOISE.map(r=>rowDataset(r[0],r[1],r[2])),...bricks(E_BRICKS,256),...E_MCA.map(r=>rowDataset(r[0],r[1],r[2])),...markDatasets(E_EDGE,E_MARKS,E_DASHES)],
  text(ctx,s){
    T(ctx,'GEOTAIL  PWI SFA & MCA   DATE = 071230',124,20);
    T(ctx,'E',4,98);
    leftLabels(ctx,s.yLab,[109,109,109,109,98,98,98,74,98],[-2,-2,-1,-2,-1,-2,6,5,6]);
    T(ctx,'f(Hz)',5,440);T(ctx,'UT',4,859);timeLabels(ctx,s.x,859);
    rightLabels(ctx,s.yRed,[1035,1048,1048,0,1038,0,1037],[-10,1,-2,0,-1,0,-2]);
    T(ctx,'[/cc]',1033,713,'#ff0000');T(ctx,'MCA',1040,793);
    legend(ctx,E_LEGEND,200);legend(ctx,E_LEGEND2,400);
    T(ctx,'dBV/m/√Hz',1100,538,'#000','left',12.2);
    ctx.strokeStyle='#000';ctx.beginPath();ctx.moveTo(1182,526.5);ctx.lineTo(1210,526.5);ctx.stroke();
  }});
heatChart(870,723,{yMax:384,top:940,bottom:1421,minor:B_MINOR,med:B_MED,major:B_MAJOR,labelTicks:B_LABEL_TICKS,labels:B_LABELS,red:B_RED,redLabels:B_RED_LABELS,
  datasets:[...B_NOISE.map(r=>rowDataset(r[0],r[1],r[2])),...bricks(B_BRICKS,256),...B_MCA.map(r=>rowDataset(r[0],r[1],r[2])),...markDatasets(B_EDGE,B_MARKS,B_DASHES)],
  text(ctx,s,top){
    T(ctx,'B',4,938-top);
    leftLabels(ctx,s.yLab,[109,109,98,98,98,74,98],[-2,-1,-1,-1,6,5,6]);
    T(ctx,'f(Hz)',5,1130-top);T(ctx,'UT',4,1444-top);timeLabels(ctx,s.x,1444-top);
    rightLabels(ctx,s.yRed,[1035,1035,1035,1035],[0,-10,-2,-4]);
    T(ctx,'[nT]',1053,1305-top,'#ff0000');T(ctx,'MCA',1040,1377-top);
    legend(ctx,B_LEGEND,900-top);
    T(ctx,'dBnT/√Hz',1100,1038-top,'#000','left',12.2);
    ctx.strokeStyle='#000';ctx.beginPath();ctx.moveTo(1170,1026.5-top);ctx.lineTo(1198,1026.5-top);ctx.stroke();
    GSM_NAMES.forEach((n,i)=>{T(ctx,n,4,1472+i*30-top);});
    [GSMX,GSMY,GSMZ].forEach((row,i)=>row.forEach((v,j)=>T(ctx,v,s.x.getPixelForValue(TIME_TICKS[j])+9.5,1472+i*30-top,'#000','center')));
    T(ctx,'New Calibration Table (from Oct. 10, 1995)',674,1576-top,'#0000ff');
  }});
stripChart(59.5,['#000000','#0000ff','#0000ff'],E_STRIP_TICKS);
stripChart(899.5,['#000000','#ff0000','#0000ff']);
colorBar(560,290,E_DB,1,{px:256,pad:20});
colorBar(1134,290,B_DB,.5,{px:256,pad:20});
</script></body></html>
